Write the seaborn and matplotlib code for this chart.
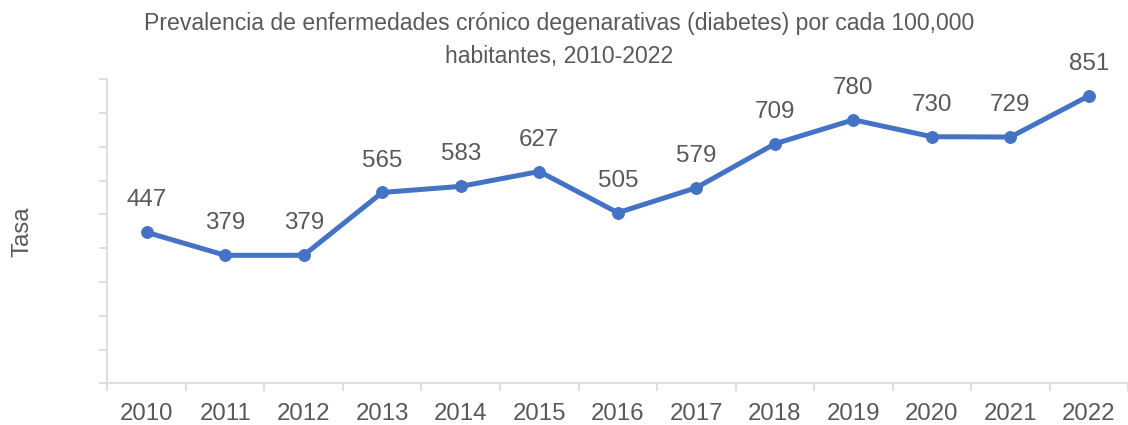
import matplotlib
matplotlib.use("Agg")
import matplotlib.pyplot as plt
import seaborn as sns
import pandas as pd
import numpy as np

# Diabetes prevalence per 100,000 inhabitants
years = ["2010", "2011", "2012", "2013", "2014", "2015", "2016",
         "2017", "2018", "2019", "2020", "2021", "2022"]
rates = [447, 379, 379, 565, 583, 627, 505, 579, 709, 780, 730, 729, 851]

title = ("Prevalencia de enfermedades crónico degenarativas (diabetes) por cada 100,000\n"
         "habitantes, 2010-2022")
y_label = "Tasa"

sns.set_theme(style="white")
plt.rcParams["font.family"] = ["Liberation Sans", "DejaVu Sans"]

line_color = "#4472C4"
text_color = "#595959"
axis_color = "#D9D9D9"

df = pd.DataFrame({"pos": np.arange(len(years)), "rate": rates})

fig = plt.figure(figsize=(11.28, 4.25), dpi=100)
ax = fig.add_axes([0.0952, 0.098, 0.905, 0.7155])

sns.lineplot(data=df, x="pos", y="rate", ax=ax, color=line_color,
             linewidth=3.6, marker="o", markersize=8.5,
             markeredgecolor=line_color, markerfacecolor=line_color)

for x, v in zip(df["pos"], df["rate"]):
    ax.annotate(f"{v}", (x, v), xytext=(0, 23), textcoords="offset points",
                ha="center", va="center", fontsize=17.4, color=text_color)

ax.set_xlim(-0.5, len(years) - 0.5)
ax.set_ylim(0, 900)
ax.set_yticks(np.arange(0, 901, 100))
ax.set_yticklabels([])
ax.set_xticks(df["pos"])
ax.set_xticklabels(years)
ax.set_xticks(np.arange(-0.5, len(years), 1.0), minor=True)

ax.tick_params(axis="x", which="major", length=0, pad=14,
               labelsize=17.3, labelcolor=text_color)
ax.tick_params(axis="x", which="minor", bottom=True, length=6,
               width=1.2, color=axis_color)
ax.tick_params(axis="y", which="major", left=True, length=5.5,
               width=1.2, color=axis_color)

for side in ["top", "right"]:
    ax.spines[side].set_visible(False)
for side in ["left", "bottom"]:
    ax.spines[side].set_color(axis_color)
    ax.spines[side].set_linewidth(1.2)

ax.set_xlabel("")
ax.set_ylabel(y_label, fontsize=17.3, color=text_color)
ax.yaxis.set_label_coords(-0.072, 0.5)

fig.text(0.496, 0.972, title, ha="center", va="top", fontsize=16.6,
         color=text_color, linespacing=1.55)

fig.savefig("out.png", dpi=100)
